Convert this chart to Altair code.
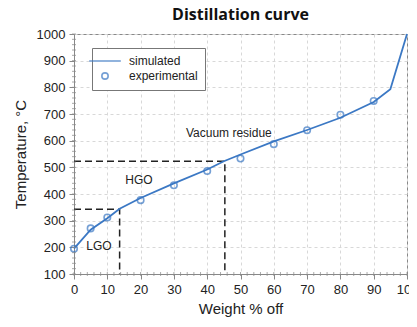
import altair as alt
import pandas as pd

# simulated curve
sim_x = [0, 5, 10, 13.7, 20, 30, 40, 45, 50, 60, 70, 80, 90, 95, 100]
sim_y = [195, 266, 309, 345, 385, 440, 492, 523, 548, 597, 640, 686, 745, 793, 1000]
# experimental points
exp_x = [0, 5, 10, 20, 30, 40, 50, 60, 70, 80, 90]
exp_y = [195, 271, 312, 377, 433, 486, 533, 587, 639, 697, 749]
# dashed cut lines
cut_id = ["a", "a", "a", "b", "b", "b"]
cut_x = [0, 13.7, 13.7, 0, 45.3, 45.3]
cut_y = [343, 343, 100, 523, 523, 100]
cut_ord = [0, 1, 2, 0, 1, 2]
# annotations
ann_text = ["LGO", "HGO", "Vacuum residue"]
ann_x = [7.5, 19.5, 46.5]
ann_y = [206, 452, 628]
# axis ticks
x_ticks = list(range(0, 101, 10))
y_ticks = list(range(100, 1001, 100))
x_minor = list(range(0, 101, 2))
y_minor = list(range(100, 1001, 20))

BLUE = "#3b78c4"
FONT = "Liberation Sans"

sim = pd.DataFrame({"x": sim_x, "y": sim_y, "series": "simulated"})
exp = pd.DataFrame({"x": exp_x, "y": exp_y, "series": "experimental"})
cut = pd.DataFrame({"id": cut_id, "x": cut_x, "y": cut_y, "o": cut_ord})
ann = pd.DataFrame({"t": ann_text, "x": ann_x, "y": ann_y})
xm = pd.DataFrame({"x": x_minor, "y": [100] * len(x_minor)})
ym = pd.DataFrame({"x": [0] * len(y_minor), "y": y_minor})

xs = alt.Scale(domain=[0, 100], nice=False)
ys = alt.Scale(domain=[100, 1000], nice=False)

xax = alt.Axis(title="Weight % off", values=x_ticks, grid=True, labelOverlap=False, format="d",
               labelFlush=False, tickSize=5, labelPadding=4, titlePadding=5)
yax = alt.Axis(title="Temperature, °C", values=y_ticks, grid=True, format="d",
               labelOverlap=False, labelFlush=False, tickSize=5, labelPadding=4, titlePadding=8)

X = alt.X("x:Q", scale=xs, axis=xax)
Y = alt.Y("y:Q", scale=ys, axis=yax)

shape = alt.Shape("series:N", scale=alt.Scale(domain=["simulated", "experimental"],
                                              range=["M-5,0L5,0", "circle"]),
                  legend=alt.Legend(title=None, orient="none", legendX=18, legendY=14,
                                    strokeColor="#777", fillColor="white", padding=7,
                                    labelFont=FONT, labelFontSize=12, labelColor="#222",
                                    symbolStrokeWidth=1.6, symbolStrokeColor=BLUE,
                                    symbolFillColor="white",
                                    symbolSize=40, labelOffset=18, rowPadding=2))

cutl = alt.Chart(cut).mark_line(color="#222", strokeDash=[7, 4], strokeWidth=1.5).encode(
    x=X, y=Y, detail="id:N", order="o:Q")

line = alt.Chart(sim).mark_line(strokeWidth=1.8, color=BLUE).encode(x=X, y=Y)

pts = alt.Chart(exp).mark_point(filled=False, size=42, strokeWidth=1.6, color=BLUE).encode(
    x=X, y=Y, shape=shape)

txt = alt.Chart(ann).mark_text(font=FONT, fontSize=12, color="#222").encode(
    x=X, y=Y, text="t:N")

# minor tick marks along the axes
xmin = alt.Chart(xm).mark_point(shape="M0,-1L0,1", size=16, color="#888", strokeWidth=1).encode(
    x=X, y=Y)
ymin = alt.Chart(ym).mark_point(shape="M-1,0L1,0", size=16, color="#888", strokeWidth=1).encode(
    x=X, y=Y)

chart = alt.layer(cutl, line, pts, txt, xmin, ymin).properties(
    width=333, height=240,
    title=alt.Title("Distillation curve", font="Open Sans", fontSize=16, fontWeight="bold",
                    color="#111", offset=5),
    autosize=alt.AutoSizeParams(type="none"),
    padding={"left": 66, "top": 26, "right": 2, "bottom": 45},
).configure_view(stroke="#888", strokeWidth=1).configure_axis(
    labelFont=FONT, labelFontSize=13, labelColor="#222", titleFont=FONT, titleFontSize=15,
    titleFontWeight="normal", titleColor="#222", gridColor="#d8d8d8", gridDash=[3, 3],
    domainColor="#888", tickColor="#888")

chart.save("out.html", embed_options={"renderer": "svg", "actions": False})
